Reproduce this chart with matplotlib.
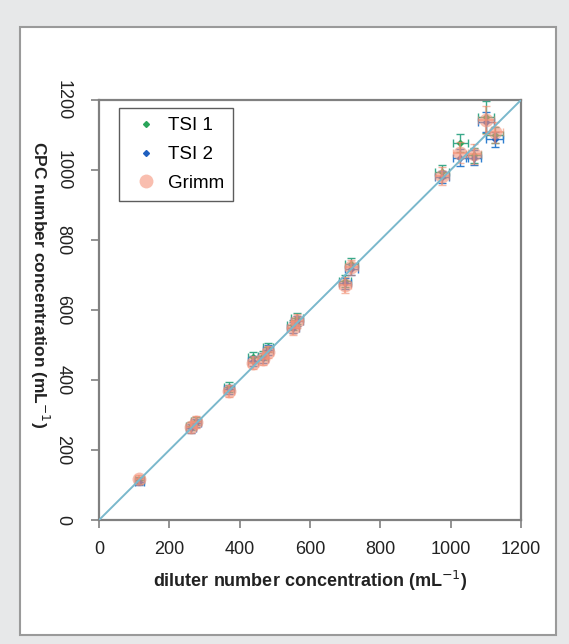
import matplotlib.pyplot as plt
from matplotlib.patches import Rectangle
from matplotlib.lines import Line2D

plt.rcParams['font.family'] = ['Liberation Sans', 'DejaVu Sans']

# diluter concentration (mL-1) for each measurement step
diluter = [115, 262, 276, 370, 438, 467, 480, 552, 563, 700, 718, 975, 1028, 1065, 1100, 1125]
diluter_err = [12, 14, 14, 15, 15, 15, 15, 16, 16, 18, 18, 20, 22, 22, 22, 24]

tsi1 = [113, 268, 283, 380, 465, 470, 493, 557, 576, 683, 732, 995, 1078, 1042, 1152, 1100]
tsi2 = [110, 262, 278, 373, 455, 463, 486, 550, 568, 676, 716, 980, 1035, 1035, 1138, 1088]
grimm = [116, 265, 280, 369, 450, 460, 480, 548, 570, 672, 722, 983, 1050, 1046, 1142, 1108]
tsi1_err = [10, 12, 12, 14, 14, 14, 14, 15, 15, 16, 16, 18, 26, 22, 45, 22]
tsi2_err = [10, 12, 12, 14, 14, 14, 14, 15, 15, 16, 16, 18, 24, 22, 28, 22]
grimm_err = [14, 16, 16, 18, 18, 18, 18, 20, 20, 22, 22, 26, 30, 28, 40, 30]

fit_x = [0, 1200]
fit_y = [0, 1200]

fig = plt.figure(figsize=(5.69, 6.44), dpi=100)
fig.patch.set_facecolor('#e7e8e9')
# white panel behind the chart
bg = fig.add_axes([0, 0, 1, 1], zorder=-5)
bg.set_axis_off()
bg.add_patch(Rectangle((0.0351, 0.014), 0.942, 0.944, transform=bg.transAxes,
                       facecolor='white', edgecolor='#9a9a9a', linewidth=1.5))

ax = fig.add_axes([0.174, 0.1925, 0.7416, 0.6522])
ax.set_facecolor('white')

ax.errorbar(diluter, tsi1, xerr=diluter_err, yerr=tsi1_err, fmt='D', color='#2aa55a',
            ms=3, ecolor='#3aa98a', elinewidth=1, capsize=3, zorder=2)
ax.errorbar(diluter, tsi2, xerr=diluter_err, yerr=tsi2_err, fmt='D', color='#1f5fbf',
            ms=3, ecolor='#2f7fd0', elinewidth=1, capsize=3, zorder=3)
# Grimm: big soft salmon markers with orange error bars
ax.errorbar(diluter, grimm, xerr=diluter_err, yerr=grimm_err, fmt='o', color='#f5937a',
            ms=10, mec='none', alpha=0.6, ecolor='#f08a6a', elinewidth=1.5, capsize=3,
            zorder=4)
ax.plot(fit_x, fit_y, color='#7ab8cc', lw=1.4, zorder=5)

ax.set_xlim(0, 1200)
ax.set_ylim(0, 1200)
ax.set_xticks(range(0, 1201, 200))
ax.set_yticks(range(0, 1201, 200))
for s in ax.spines.values():
    s.set_color('#808080')
    s.set_linewidth(1.6)
ax.tick_params(direction='out', length=6, width=1.2, color='#808080', labelsize=13,
               labelcolor='#222222')
ax.tick_params(axis='x', pad=9)
ax.tick_params(axis='y', labelrotation=-90, pad=20)
for lab in ax.get_yticklabels():
    lab.set_va('center')
    lab.set_ha('center')

ax.set_xlabel('diluter number concentration (mL$^{-1}$)', fontsize=13, fontweight='bold',
              color='#222222', labelpad=8)
ax.set_ylabel('CPC number concentration (mL$^{-1}$)', fontsize=12.5, fontweight='bold',
              color='#222222', rotation=-90, va='center', ha='center')
ax.yaxis.set_label_coords(-0.14, 0.56)

handles = [Line2D([], [], ls='none', marker='D', ms=3, color='#2aa55a'),
           Line2D([], [], ls='none', marker='D', ms=3, color='#1f5fbf'),
           Line2D([], [], ls='none', marker='o', ms=10, color='#f5937a', mec='none', alpha=0.6)]
leg = ax.legend(handles, ['TSI 1', 'TSI 2', 'Grimm'], loc='upper left',
                bbox_to_anchor=(0.047, 0.981), fontsize=13.5, frameon=True, fancybox=False,
                edgecolor='#333333', handlelength=1.9, handletextpad=0.2, borderpad=0.5,
                labelspacing=0.62, borderaxespad=0)
leg.get_frame().set_linewidth(1.0)

fig.savefig('out.png', dpi=100, facecolor=fig.get_facecolor())
